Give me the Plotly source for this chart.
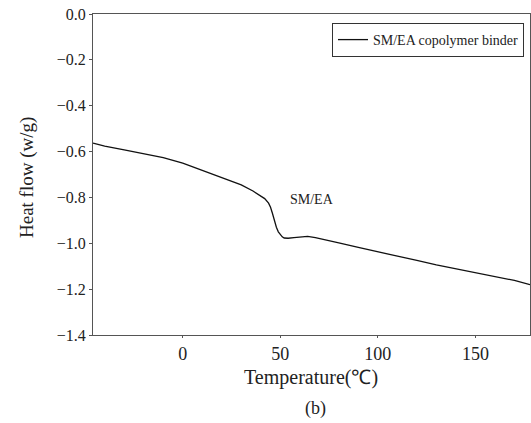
import plotly.graph_objects as go

temperature = [-46, -40, -30, -20, -10, 0, 10, 20, 30, 36, 40, 42, 44, 45, 46, 47, 48, 49,
               50, 51, 52, 54, 57, 60, 64, 68, 72, 80, 90, 100, 110, 120, 130, 140, 150,
               160, 170, 178]
heat_flow = [-0.563, -0.576, -0.593, -0.608, -0.626, -0.650, -0.682, -0.712, -0.745, -0.772,
             -0.792, -0.805, -0.825, -0.843, -0.870, -0.902, -0.930, -0.950, -0.963, -0.972,
             -0.977, -0.978, -0.975, -0.972, -0.970, -0.975, -0.982, -0.998, -1.018, -1.038,
             -1.057, -1.075, -1.094, -1.111, -1.127, -1.143, -1.162, -1.180]
series_name = "SM/EA copolymer binder"
x_ticks = [0, 50, 100, 150]
y_ticks = [0.0, -0.2, -0.4, -0.6, -0.8, -1.0, -1.2, -1.4]

FONT = "Liberation Serif"
TXT = "#222222"

# plot area in page pixels: x 93..530, y 14..335
PL, PR, PT, PB = 93, 530, 14, 335
W, H = 531, 423


def px_to_paper(px, py):
    return (px - PL) / (PR - PL), (PB - py) / (PB - PT)


fig = go.Figure()
fig.add_trace(go.Scatter(x=temperature, y=heat_flow, mode="lines", name=series_name,
                         line=dict(color="#111111", width=1.3), showlegend=True))

lx, ly = px_to_paper(332, 23)
annotations = [
    dict(text="SM/EA", x=66, y=-0.81, xref="x", yref="y", showarrow=False,
         font=dict(family=FONT, size=14, color=TXT)),
]
for text, px, py, size, angle in [
    ("Temperature(℃)", 311, 378, 20, 0),
    ("(b)", 315, 408, 18, 0),
    ("Heat flow (w/g)", 27, 178, 19, -90),
]:
    ax, ay = px_to_paper(px, py)
    annotations.append(dict(text=text, x=ax, y=ay, xref="paper", yref="paper",
                            xanchor="center", yanchor="middle", showarrow=False,
                            textangle=angle, font=dict(family=FONT, size=size, color=TXT)))

fig.update_layout(
    width=W, height=H,
    margin=dict(l=PL, r=W - PR, t=PT, b=H - PB, autoexpand=False),
    paper_bgcolor="white", plot_bgcolor="white",
    font=dict(family=FONT, color=TXT, size=14),
    showlegend=True,
    legend=dict(x=lx, y=ly, xanchor="left", yanchor="top",
                bordercolor="#333333", borderwidth=1, bgcolor="white",
                font=dict(family=FONT, size=14, color=TXT),
                itemwidth=30, tracegroupgap=0),
    xaxis=dict(range=[-46, 178], tickvals=x_ticks, showgrid=False, zeroline=False,
               showline=True, linecolor="#555555", linewidth=1, mirror=True,
               ticks="outside", ticklen=2, tickcolor="#555555",
               tickfont=dict(family=FONT, size=18, color=TXT)),
    yaxis=dict(range=[-1.4, 0.0], tickvals=y_ticks, tickformat=".1f", showgrid=False,
               zeroline=False, showline=True, linecolor="#555555", linewidth=1, mirror=True,
               ticks="outside", ticklen=3, tickcolor="#555555", ticklabeloverflow="allow",
               tickfont=dict(family=FONT, size=16, color=TXT)),
    annotations=annotations,
)

fig.write_html("out.html",
               config={"displayModeBar": False},
               post_script="document.body.style.margin='0';document.body.style.overflow='hidden';")
